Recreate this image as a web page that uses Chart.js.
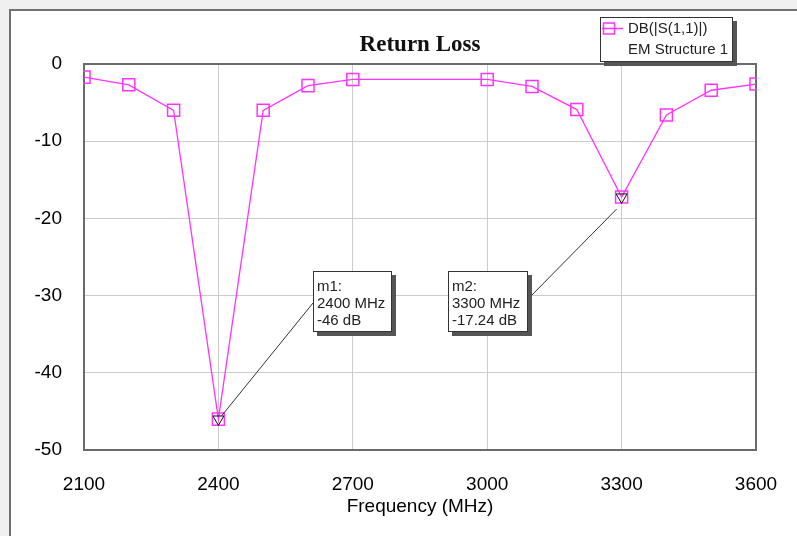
<!DOCTYPE html>
<html>
<head>
<meta charset="utf-8">
<script src="https://cdn.jsdelivr.net/npm/chart.js@4/dist/chart.umd.min.js"></script>
<style>
  html, body { margin: 0; padding: 0; background: #f0f0f0; overflow: hidden; }
  #wrap { width: 797px; height: 536px; position: relative; }
</style>
</head>
<body>
<div id="wrap"><canvas id="c" width="797" height="536"></canvas></div>
<script>
// ---- data ----
const frequencies = [2100, 2200, 2300, 2400, 2500, 2600, 2700, 3000, 3100, 3200, 3300, 3400, 3500, 3600];
const s11dB       = [-1.7, -2.7, -6.0, -46, -6.0, -2.8, -2.0, -2.0, -2.9, -5.9, -17.24, -6.6, -3.4, -2.6];
const markerFreqs = [2400, 3300];
const markerVals  = [-46, -17.24];
const markerNames = ['m1:', 'm2:'];
const xTickValues = [2100, 2400, 2700, 3000, 3300, 3600];
const yTickValues = [0, -10, -20, -30, -40, -50];
const chartTitle = 'Return Loss';
const xAxisTitle = 'Frequency (MHz)';
const legendLines = ['DB(|S(1,1)|)', 'EM Structure 1'];

const MAGENTA = '#ff33ff';
const SANS = '"Liberation Sans", Arial, sans-serif';

const mainData = frequencies.map((f, i) => ({ x: f, y: s11dB[i] }));
const markerData = markerFreqs.map((f, i) => ({ x: f, y: markerVals[i] }));

// marker box layout (pixel positions of annotation boxes)
const markerBoxes = [
  { left: 313, top: 271, w: 79, h: 61, anchor: [313, 303], tipOff: [3, -3] },
  { left: 448, top: 271, w: 80, h: 61, anchor: [529, 298], tipOff: [-5, 12] }
];

function drawShadowBox(ctx, x, y, w, h) {
  ctx.fillStyle = '#555';
  ctx.fillRect(x + 4, y + 4, w, h);
  ctx.fillStyle = '#fff';
  ctx.fillRect(x, y, w, h);
  ctx.strokeStyle = '#333';
  ctx.lineWidth = 1;
  ctx.strokeRect(x + 0.5, y + 0.5, w - 1, h - 1);
}

const decor = {
  id: 'decor',
  beforeDraw(chart) {
    const ctx = chart.ctx;
    ctx.save();
    ctx.fillStyle = '#f0f0f0';
    ctx.fillRect(0, 0, chart.width, chart.height);
    ctx.fillStyle = '#fff';
    ctx.fillRect(10, 10, chart.width, chart.height);
    ctx.strokeStyle = '#707070';
    ctx.lineWidth = 2;
    ctx.beginPath();
    ctx.moveTo(10, chart.height + 5);
    ctx.lineTo(10, 10);
    ctx.lineTo(chart.width + 5, 10);
    ctx.stroke();
    ctx.restore();
  },
  beforeDatasetsDraw(chart) {
    const ctx = chart.ctx, a = chart.chartArea;
    ctx.save();
    ctx.strokeStyle = '#6a6a6a';
    ctx.lineWidth = 2;
    ctx.strokeRect(a.left, a.top, a.right - a.left, a.bottom - a.top);
    ctx.restore();
  },
  afterDraw(chart) {
    const ctx = chart.ctx, a = chart.chartArea;
    const xs = chart.scales.x, ys = chart.scales.y;
    ctx.save();
    // title
    ctx.fillStyle = '#111';
    ctx.font = 'bold 23px "Liberation Serif", "Times New Roman", serif';
    ctx.textAlign = 'center';
    ctx.textBaseline = 'middle';
    ctx.fillText(chartTitle, (a.left + a.right) / 2, 45);

    // leader lines
    ctx.strokeStyle = '#333';
    ctx.lineWidth = 1;
    markerBoxes.forEach((b, i) => {
      const px = xs.getPixelForValue(markerFreqs[i]) + b.tipOff[0];
      const py = ys.getPixelForValue(markerVals[i]) + b.tipOff[1];
      ctx.beginPath();
      ctx.moveTo(b.anchor[0], b.anchor[1]);
      ctx.lineTo(px, py);
      ctx.stroke();
    });
    // marker boxes
    markerBoxes.forEach((b, i) => {
      drawShadowBox(ctx, b.left, b.top, b.w, b.h);
      ctx.fillStyle = '#222';
      ctx.font = '15px ' + SANS;
      ctx.textAlign = 'left';
      ctx.textBaseline = 'middle';
      const lines = [markerNames[i], markerFreqs[i] + ' MHz', markerVals[i] + ' dB'];
      lines.forEach((t, k) => ctx.fillText(t, b.left + 4, b.top + 16 + k * 17));
    });

    // legend
    drawShadowBox(ctx, 600, 17, 133, 45);
    ctx.strokeStyle = MAGENTA;
    ctx.lineWidth = 1.5;
    ctx.beginPath();
    ctx.moveTo(602, 28.5);
    ctx.lineTo(623, 28.5);
    ctx.stroke();
    ctx.strokeRect(603.5, 23, 11, 11);
    ctx.fillStyle = '#222';
    ctx.font = '15px ' + SANS;
    ctx.textAlign = 'left';
    ctx.textBaseline = 'middle';
    ctx.fillText(legendLines[0], 628, 29);
    ctx.fillText(legendLines[1], 628, 50);
    ctx.restore();
  }
};

new Chart(document.getElementById('c'), {
  type: 'line',
  data: {
    datasets: [
      {
        label: 'markers',
        data: markerData,
        showLine: false,
        pointStyle: 'triangle',
        rotation: 180,
        pointRadius: 6.3,
        pointBorderColor: '#111',
        pointBackgroundColor: 'rgba(0,0,0,0)',
        pointBorderWidth: 1,
        order: 0,
        clip: 1
      },
      {
        label: legendLines[0],
        data: mainData,
        borderColor: MAGENTA,
        borderWidth: 1.3,
        tension: 0,
        pointStyle: 'rect',
        pointRadius: 8.5,
        pointBorderColor: MAGENTA,
        pointBackgroundColor: 'rgba(0,0,0,0)',
        pointBorderWidth: 1.5,
        order: 1,
        clip: 1
      }
    ]
  },
  options: {
    responsive: false,
    animation: false,
    events: [],
    layout: { padding: { left: 0, top: 64, right: 41, bottom: 0 } },
    plugins: { legend: { display: false }, title: { display: false }, tooltip: { enabled: false } },
    scales: {
      x: {
        type: 'linear',
        min: 2100, max: 3600,
        afterBuildTicks: s => { s.ticks = xTickValues.map(v => ({ value: v })); },
        afterFit: s => { s.height = 86; s.paddingLeft = 0; s.paddingRight = 0; },
        grid: { color: '#cccccc', lineWidth: 1, drawTicks: false },
        border: { display: false },
        ticks: { color: '#000', font: { family: SANS, size: 19 }, padding: 23, maxRotation: 0, autoSkip: false, callback: v => String(v) },
        title: { display: true, text: xAxisTitle, color: '#000', font: { family: SANS, size: 19 }, padding: { top: 0, bottom: 18 } }
      },
      y: {
        type: 'linear',
        min: -50, max: 0,
        afterBuildTicks: s => { s.ticks = yTickValues.map(v => ({ value: v })); },
        afterFit: s => { s.width = 84; s.paddingTop = 0; s.paddingBottom = 0; },
        grid: { color: '#cccccc', lineWidth: 1, drawTicks: false },
        border: { display: false },
        ticks: { color: '#000', font: { family: SANS, size: 19 }, padding: 22, autoSkip: false, callback: v => String(v) }
      }
    }
  },
  plugins: [decor]
});
</script>
</body>
</html>
